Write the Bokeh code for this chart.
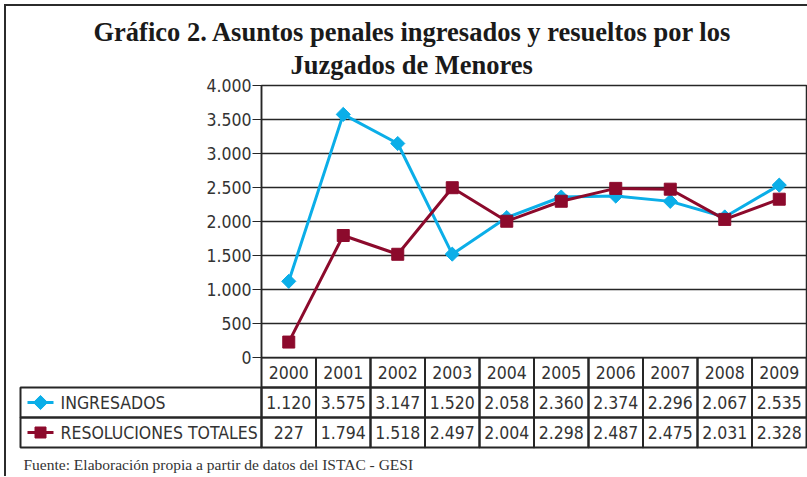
import numpy as np
from bokeh.plotting import figure
from bokeh.models import FactorRange, Range1d, FixedTicker, Title, ColumnDataSource
from bokeh.layouts import column
from bokeh.embed import file_html
from bokeh.resources import INLINE
from bokeh.core.properties import value

# ---------------- data ----------------
years = ["2000", "2001", "2002", "2003", "2004", "2005", "2006", "2007", "2008", "2009"]
ingresados = [1120, 3575, 3147, 1520, 2058, 2360, 2374, 2296, 2067, 2535]
resoluciones = [227, 1794, 1518, 2497, 2004, 2298, 2487, 2475, 2031, 2328]
series_names = ["INGRESADOS", "RESOLUCIONES TOTALES"]
y_ticks = [0, 500, 1000, 1500, 2000, 2500, 3000, 3500, 4000]
y_tick_labels = ["0", "500", "1.000", "1.500", "2.000", "2.500", "3.000", "3.500", "4.000"]
title_lines = ["Gráfico 2. Asuntos penales ingresados y resueltos por los",
               "Juzgados de Menores"]
source_note = "Fuente: Elaboración propia a partir de datos del ISTAC - GESI"

# ---------------- style ----------------
CYAN = "#0BAEE8"
RED = "#8C0A2C"
DARK = "#262626"
TXT = "#333333"
SANS = "DejaVu Sans Condensed, Liberation Sans Narrow, DejaVu Sans"
SERIF = "Liberation Serif, Times New Roman, serif"
FS = "17.5px"

ORIGIN = 6          # page offset of the figures (margin + border)
PLOT_LEFT = 261     # page x of plot frame left
PLOT_RIGHT = 806
PLOT_TOP = 85
PLOT_BOTTOM = 357
COL = (PLOT_RIGHT - PLOT_LEFT) / len(years)
W = 801
OVERLAP = 12

def fmt(v):
    return f"{v:,}".replace(",", ".")

# ---------------- chart ----------------
fA = figure(width=W, height=PLOT_BOTTOM - ORIGIN + OVERLAP,
            x_range=FactorRange(*years, range_padding=0),
            y_range=Range1d(0, 4000),
            output_backend="svg", toolbar_location=None,
            min_border_left=PLOT_LEFT - ORIGIN,
            min_border_right=W - (PLOT_LEFT - ORIGIN) - (PLOT_RIGHT - PLOT_LEFT),
            min_border_top=PLOT_TOP - ORIGIN, min_border_bottom=OVERLAP)
fA.frame_align = False
fA.xaxis.visible = False
fA.xgrid.visible = False
fA.yaxis.ticker = FixedTicker(ticks=y_ticks)
fA.yaxis.major_label_overrides = dict(zip(y_ticks, y_tick_labels))
fA.yaxis.minor_tick_line_color = None
fA.yaxis.major_tick_out = 9
fA.yaxis.major_tick_in = 0
fA.yaxis.major_tick_line_color = DARK
fA.yaxis.major_tick_line_width = 1.2
fA.yaxis.axis_line_color = DARK
fA.yaxis.axis_line_width = 1.5
fA.yaxis.major_label_standoff = 1
fA.yaxis.major_label_text_font = SANS
fA.yaxis.major_label_text_font_size = FS
fA.yaxis.major_label_text_color = TXT
fA.ygrid.grid_line_color = DARK
fA.ygrid.grid_line_width = 1.5
fA.outline_line_color = DARK
fA.outline_line_width = 1.5

# title lines: nearest to the frame first
t2 = Title(text=title_lines[1], align="left", offset=290 - PLOT_LEFT, standoff=7,
           vertical_align="top",
           text_font=SERIF, text_font_size="26.5px", text_font_style="bold",
           text_color="#1a1a1a")
t1 = Title(text=title_lines[0], align="left", offset=93 - PLOT_LEFT, standoff=0,
           text_font=SERIF, text_font_size="26.5px", text_font_style="bold",
           text_color="#1a1a1a")
fA.add_layout(t2, "above")
fA.add_layout(t1, "above")

src = ColumnDataSource(dict(year=years, ing=ingresados, res=resoluciones))
fA.line("year", "ing", source=src, line_color=CYAN, line_width=3)
fA.scatter("year", "ing", source=src, marker="square", angle=np.pi / 4, size=10,
           fill_color=CYAN, line_color=CYAN, line_width=1)
fA.line("year", "res", source=src, line_color=RED, line_width=3)
fA.scatter("year", "res", source=src, marker="square", size=12,
           fill_color=RED, line_color=RED, line_width=1)

# ---------------- data table ----------------
TABLE_LEFT = 20

def ux(px):
    return (px - PLOT_LEFT) / COL

fB = figure(width=W, height=119,
            x_range=Range1d(ux(16), ux(ORIGIN + W)), y_range=Range1d(-1 + 1 / 30, 3),
            output_backend="svg", toolbar_location=None,
            min_border_left=16 - ORIGIN, min_border_right=0,
            min_border_top=0, min_border_bottom=0)
fB.frame_align = False
fB.margin = (-OVERLAP, 0, 0, 0)
fB.background_fill_color = None
fB.border_fill_color = None
fB.axis.visible = False
fB.grid.visible = False
fB.outline_line_color = None

xi = np.arange(len(years))
for top in (3, 2, 1):
    fB.quad(left=xi, right=xi + 1, bottom=top - 1, top=top,
            fill_color=None, line_color=DARK, line_width=2)
fB.quad(left=[ux(TABLE_LEFT)] * 2, right=[0, 0], bottom=[1, 0], top=[2, 1],
        fill_color=None, line_color=DARK, line_width=2)

fB.text(x=xi + 0.5, y=2.5, text=years, text_align="center", text_baseline="middle",
        text_font=value(SANS), text_font_size=FS, text_color=TXT)
fB.text(x=xi + 0.5, y=1.5, text=[fmt(v) for v in ingresados], text_align="center",
        text_baseline="middle", text_font=value(SANS), text_font_size=FS, text_color=TXT)
fB.text(x=xi + 0.5, y=0.5, text=[fmt(v) for v in resoluciones], text_align="center",
        text_baseline="middle", text_font=value(SANS), text_font_size=FS, text_color=TXT)

# legend keys
fB.segment(x0=[ux(27)], y0=[1.5], x1=[ux(53)], y1=[1.5], line_color=CYAN, line_width=3)
fB.scatter(x=[ux(40)], y=[1.5], marker="square", angle=np.pi / 4, size=10,
           fill_color=CYAN, line_color=CYAN)
fB.segment(x0=[ux(27)], y0=[0.5], x1=[ux(53)], y1=[0.5], line_color=RED, line_width=3)
fB.scatter(x=[ux(40)], y=[0.5], marker="square", size=11, fill_color=RED, line_color=RED)
fB.text(x=[ux(60), ux(60)], y=[1.5, 0.5], text=series_names, text_align="left",
        text_baseline="middle", text_font=value(SANS), text_font_size=FS, text_color=TXT)

fB.text(x=[ux(23)], y=[-0.58], text=[source_note], text_align="left",
        text_baseline="middle", text_font=value(SERIF), text_font_size="15.5px",
        text_color=TXT)

layout = column(fA, fB, spacing=0,
                styles={"margin-left": "4px", "margin-top": "4px",
                        "border-left": "2px solid #2b2b2b",
                        "border-top": "2px solid #2b2b2b"})

open("out.html", "w").write(file_html(layout, INLINE))
